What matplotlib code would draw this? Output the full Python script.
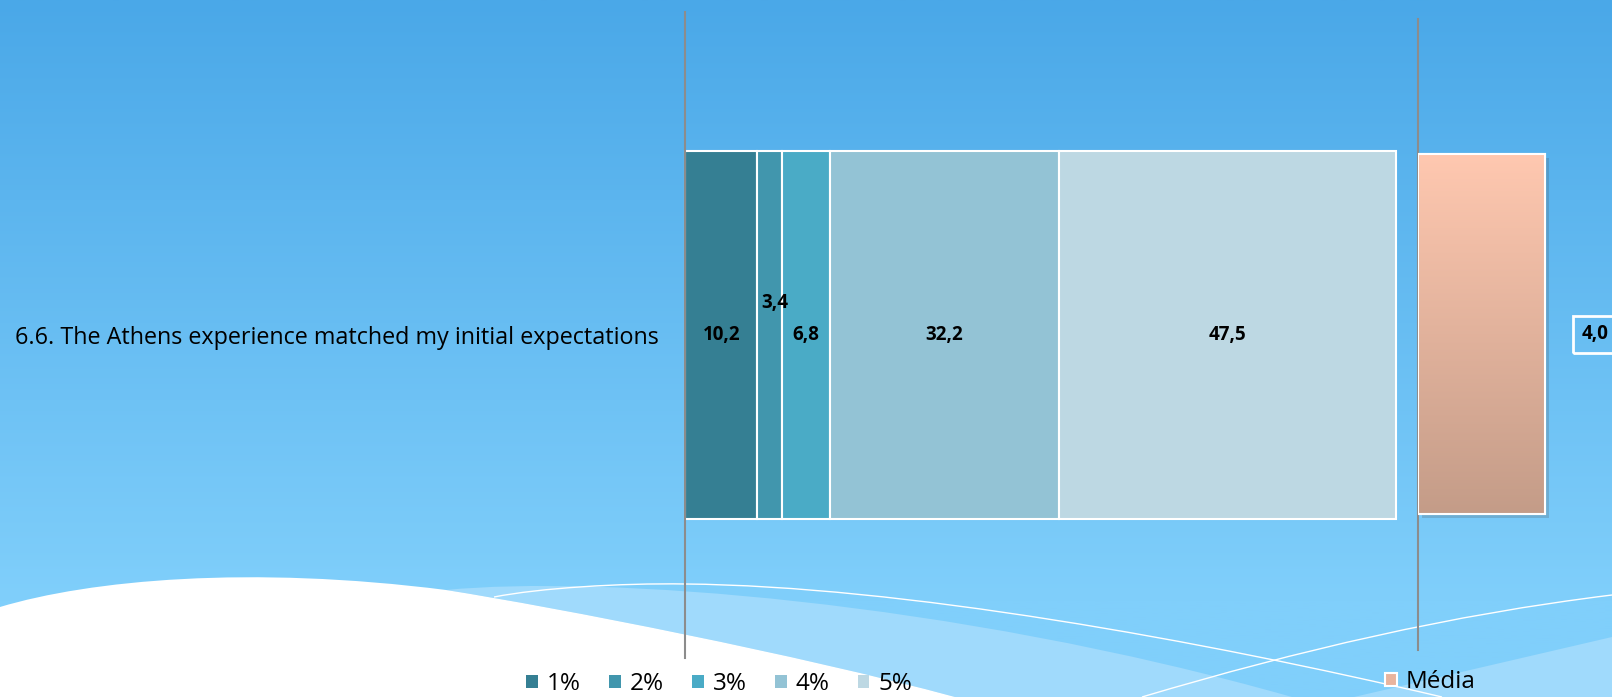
import matplotlib
matplotlib.use("Agg")
import matplotlib.pyplot as plt
from matplotlib.path import Path
from matplotlib.patches import PathPatch, Patch
import matplotlib.patheffects as pe
import numpy as np

plt.rcParams['font.family'] = ['Open Sans', 'DejaVu Sans']

# data
category = "6.6. The Athens experience matched my initial expectations"
levels = ["1%", "2%", "3%", "4%", "5%"]
shares = [10.2, 3.4, 6.8, 32.2, 47.5]
mean_label = "Média"
mean_value = 4.0

colors = ["#357f93", "#4196ad", "#4aabc6", "#93c3d5", "#bdd8e3"]

W, H = 1612, 697
fig = plt.figure(figsize=(W / 100, H / 100), dpi=100)

# slide background: gradient + waves (decoration only)
bg = fig.add_axes([0, 0, 1, 1], zorder=-5)
bg.set_xlim(0, W)
bg.set_ylim(H, 0)
bg.axis("off")
top = np.array([74, 168, 232]) / 255
bot = np.array([128, 207, 251]) / 255
t = np.clip(np.linspace(0, H, 300) / 600, 0, 1)[:, None]
grad = (top * (1 - t) + bot * t)[:, None, :]
bg.imshow(grad, extent=[0, W, H, 0], aspect="auto")

C4, M, L = Path.CURVE4, Path.MOVETO, Path.LINETO
light = "#a0dafc"
band = Path([(446, 590), (600, 575), (950, 600), (1292, 697),
             (955, 697), (800, 655), (560, 608), (446, 590)],
            [M, C4, C4, C4, L, C4, C4, C4])
bg.add_patch(PathPatch(band, fc=light, ec="none"))
bg.add_patch(plt.Polygon([(1354, 697), (1612, 637), (1612, 697)], fc=light, ec="none"))
white = Path([(0, 607), (90, 580), (250, 565), (446, 590),
              (560, 608), (800, 655), (955, 697), (0, 697), (0, 607)],
             [M, C4, C4, C4, C4, C4, C4, L, L])
bg.add_patch(PathPatch(white, fc="white", ec="none"))
line1 = Path([(494, 597), (540, 588), (620, 583), (685, 584),
              (900, 586), (1200, 640), (1442, 697)],
             [M, C4, C4, C4, C4, C4, C4])
bg.add_patch(PathPatch(line1, fc="none", ec="white", lw=1))
line2 = Path([(1142, 697), (1300, 650), (1450, 615), (1612, 595)], [M, C4, C4, C4])
bg.add_patch(PathPatch(line2, fc="none", ec="white", lw=1))

# stacked distribution bar
ax = fig.add_axes([685 / W, 1 - 658 / H, (1396 - 685) / W, (658 - 12) / H])
ax.patch.set_alpha(0)
lefts = np.concatenate([[0], np.cumsum(shares)[:-1]])
bars = ax.barh(0, shares, left=lefts, height=0.571, color=colors,
               edgecolor="white", linewidth=1.5)
for b, lab in zip(bars, levels):
    b.set_label(lab)
    b.set_clip_on(False)
for x0, v in zip(lefts, shares):
    # narrow segment: label nudged up like the original
    dx, dy = (0.7, 0.05) if v < 5 else (0, 0)
    ax.text(x0 + v / 2 + dx, dy, f"{v:.1f}".replace(".", ","), ha="center", va="center",
            fontsize=13.5, fontweight="bold", color="black")
ax.set_xlim(0, sum(shares))
ax.set_ylim(-0.5, 0.5)
ax.set_yticks([0])
ax.set_yticklabels([category], fontsize=16.8)
ax.tick_params(axis="y", length=0, pad=19)
ax.set_xticks([])
for s in ["top", "right", "bottom"]:
    ax.spines[s].set_visible(False)
ax.spines["left"].set_color("#8c8c8c")
ax.spines["left"].set_linewidth(1.5)

# mean bar
ax2 = fig.add_axes([1418 / W, 1 - 650 / H, 159 / W, (650 - 18.5) / H])
ax2.patch.set_alpha(0)
mb = ax2.barh(0, mean_value, height=0.57, color="#e8b49e", edgecolor="white",
              linewidth=1.5, label=mean_label)[0]
mb.set_path_effects([pe.SimplePatchShadow(offset=(3, -3), alpha=0.18), pe.Normal()])
g = np.linspace(0, 1, 200)[:, None]
c_top = np.array([255, 200, 176]) / 255
c_bot = np.array([196, 156, 136]) / 255
ax2.imshow((c_top * (1 - g) + c_bot * g)[:, None, :], extent=[0, mean_value, -0.285, 0.285],
           aspect="auto", clip_path=mb, zorder=2, origin="upper")
ax2.add_patch(plt.Rectangle((0, -0.285), mean_value, 0.57, fc="none", ec="white", lw=1.5, zorder=3))
ax2.annotate(f"{mean_value:.1f}".replace(".", ","), (mean_value, 0), xytext=(50, 0),
             textcoords="offset pixels", ha="center", va="center", fontsize=13.5,
             fontweight="bold", annotation_clip=False,
             bbox=dict(boxstyle="square,pad=0.45", fc="none", ec="white", lw=2))
ax2.set_xlim(0, 5)
ax2.set_ylim(-0.5, 0.5)
ax2.set_xticks([])
ax2.set_yticks([])
for s in ["top", "right", "bottom"]:
    ax2.spines[s].set_visible(False)
ax2.spines["left"].set_color("#8c8c8c")
ax2.spines["left"].set_linewidth(1.5)

leg_kw = dict(frameon=False, handlelength=0.49, handleheight=0.49, handletextpad=0.37,
              borderpad=0, borderaxespad=0, fontsize=17.5, loc="center left")
fig.legend(handles=[Patch(fc=c, ec="none") for c in colors], labels=levels, ncol=5,
           columnspacing=1.15, bbox_to_anchor=(526 / W, 1 - 684 / H), **leg_kw)
fig.legend(handles=[Patch(fc="#e8b49e", ec="white", lw=1.5)], labels=[mean_label],
           bbox_to_anchor=(1385 / W, 1 - 682 / H), **leg_kw)

fig.savefig("out.png", dpi=100)
